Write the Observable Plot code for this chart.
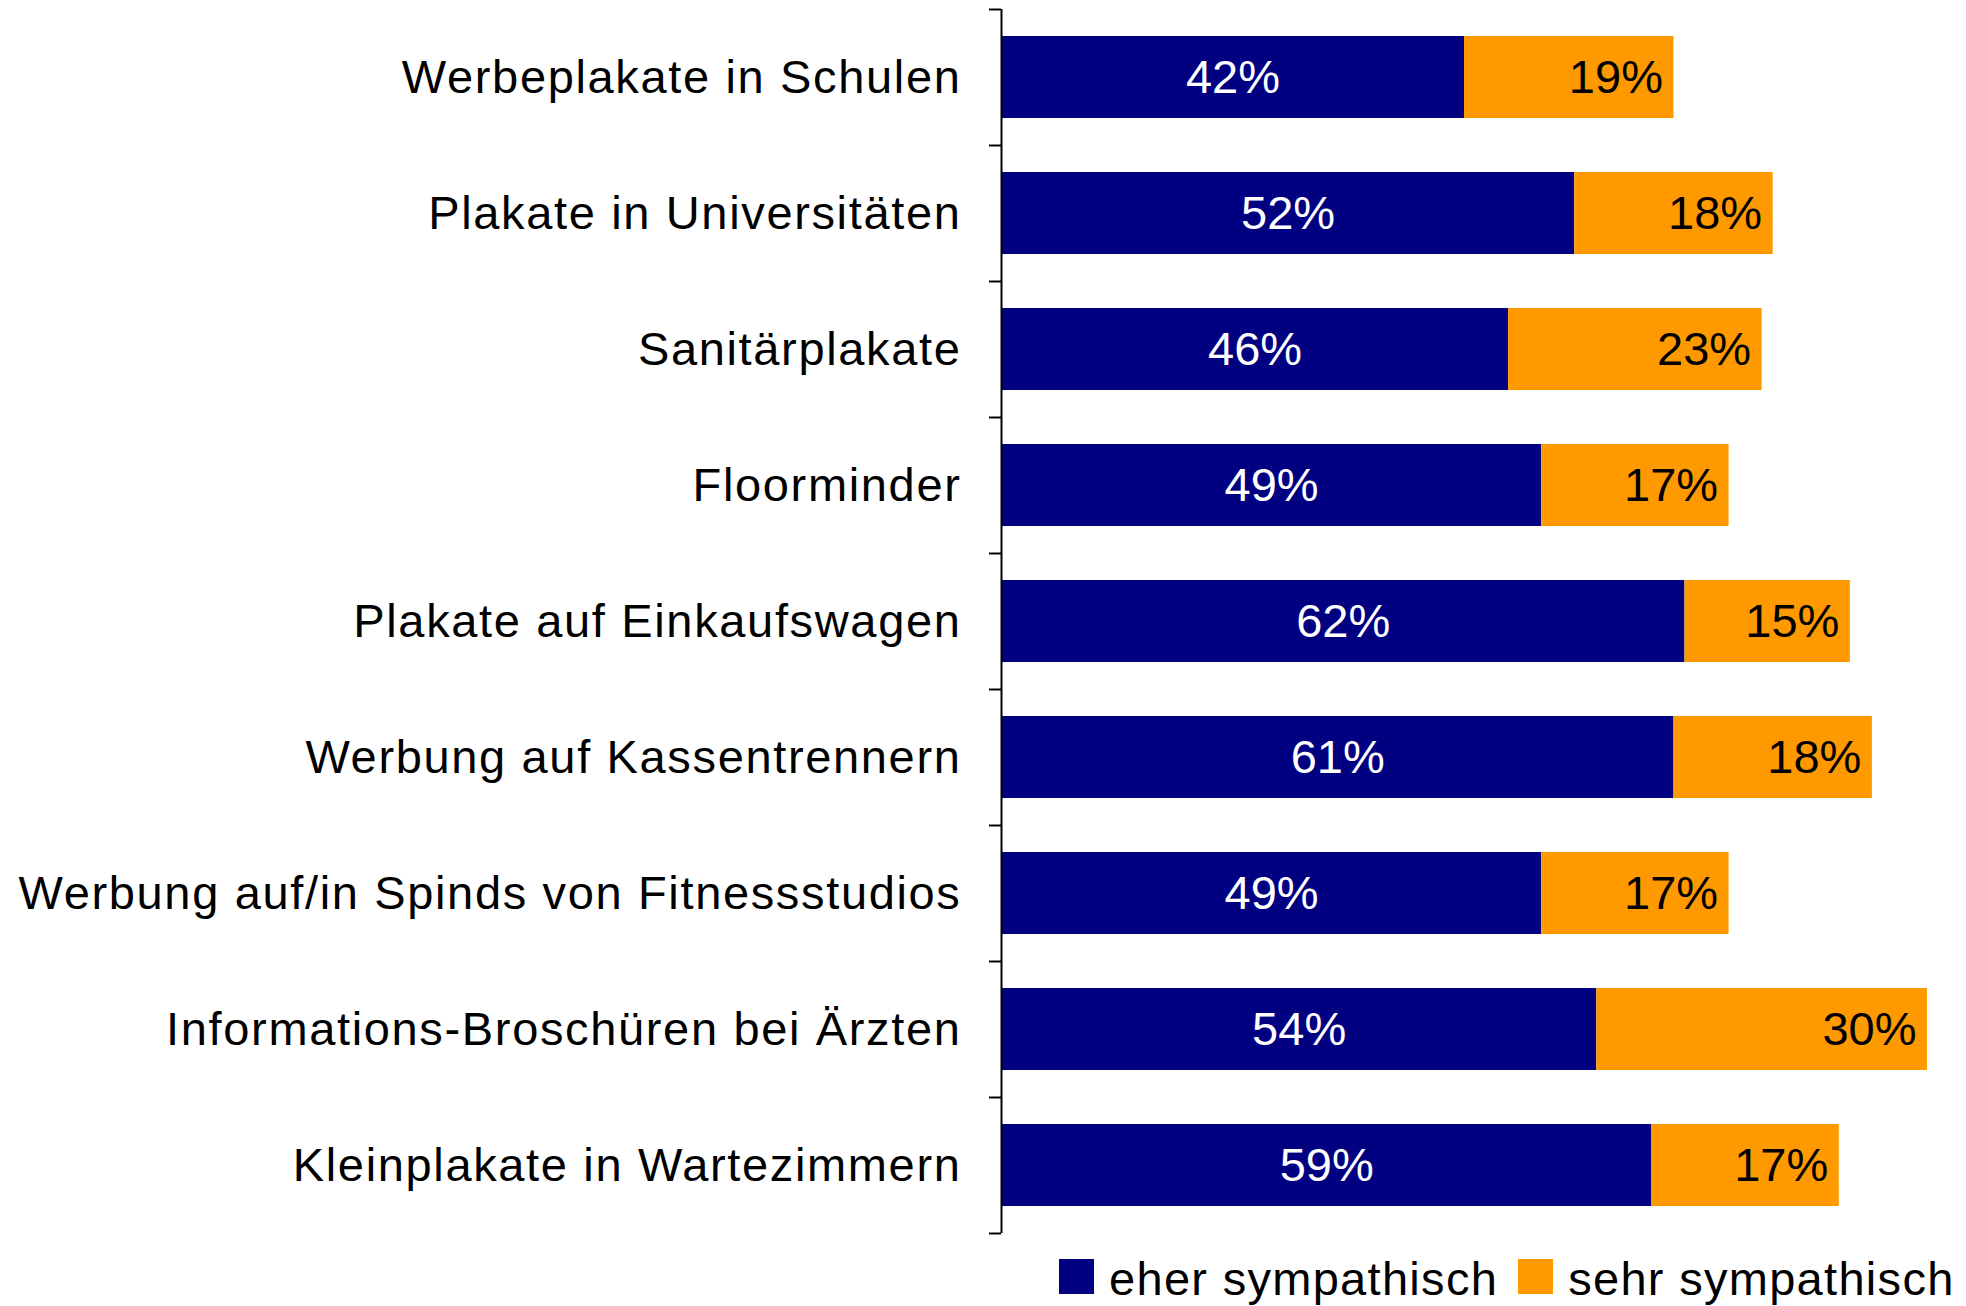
<!DOCTYPE html>
<html>
<head>
<meta charset="utf-8">
<script src="https://cdn.jsdelivr.net/npm/d3@7"></script>
<script src="https://cdn.jsdelivr.net/npm/@observablehq/plot@0.6"></script>
<style>
  html, body { margin: 0; padding: 0; background: #fff; }
  body { width: 1966px; height: 1306px; overflow: hidden; position: relative; font-family: "Liberation Sans", Arial, sans-serif; }
  #chart svg { display: block; }
  #chart svg g[aria-label="y-axis tick label"] text { letter-spacing: 1.65px; }
  .legend { position: absolute; left: 1059px; top: 1255px; height: 47px; display: flex; align-items: center; font-size: 47px; letter-spacing: 1.3px; color: #000; line-height: 1; white-space: nowrap; }
  .legend .sw { width: 35px; height: 35px; display: inline-block; margin-right: 15px; flex-shrink: 0; position: relative; top: -2px; }
  .legend .item { display: flex; align-items: center; margin-right: 20px; flex-shrink: 0; white-space: nowrap; }
</style>
</head>
<body>
<div id="chart"></div>
<script>
const categories = [
  "Werbeplakate in Schulen",
  "Plakate in Universitäten",
  "Sanitärplakate",
  "Floorminder",
  "Plakate auf Einkaufswagen",
  "Werbung auf Kassentrennern",
  "Werbung auf/in Spinds von Fitnessstudios",
  "Informations-Broschüren bei Ärzten",
  "Kleinplakate in Wartezimmern"
];
const eherValues = [42, 52, 46, 49, 62, 61, 49, 54, 59];
const sehrValues = [19, 18, 23, 17, 15, 18, 17, 30, 17];
const seriesNames = ["eher sympathisch", "sehr sympathisch"];
const seriesColors = ["#000080", "#FF9900"];

const rows = categories.map((c, i) => ({cat: c, eher: eherValues[i], sehr: sehrValues[i]}));
const long = [];
rows.forEach(r => {
  long.push({cat: r.cat, series: seriesNames[0], value: r.eher});
  long.push({cat: r.cat, series: seriesNames[1], value: r.sehr});
});

const W = 1966, H = 1242, mt = 9, mb = 9, ml = 1001, mr = 39;
const pInner = 0.4, pOuter = 0.2;
const step = (H - mt - mb) / (categories.length - pInner + 2 * pOuter);

const plot = Plot.plot({
  width: W,
  height: H,
  marginTop: mt,
  marginBottom: mb,
  marginLeft: ml,
  marginRight: mr,
  style: {fontFamily: "'Liberation Sans', Arial, sans-serif", background: "#fff"},
  x: {domain: [0, 84], axis: null},
  y: {domain: categories, paddingInner: pInner, paddingOuter: pOuter, label: null},
  color: {domain: seriesNames, range: seriesColors},
  marks: [
    Plot.barX(long, Plot.stackX({x: "value", y: "cat", fill: "series", order: seriesNames})),
    Plot.axisY({tickSize: 0, tickPadding: 40, fontSize: 47, fill: "#000"}),
    Plot.ruleX([0], {stroke: "#000", strokeWidth: 2}),
    Plot.ruleY(categories, {y: d => d, x1: 0, x2: 0, insetLeft: -12, dy: -step / 2, stroke: "#000", strokeWidth: 2}),
    Plot.ruleY([categories[categories.length - 1]], {y: d => d, x1: 0, x2: 0, insetLeft: -12, dy: step / 2, stroke: "#000", strokeWidth: 2}),
    Plot.text(rows, {x: d => d.eher / 2, y: "cat", text: d => d.eher + "%", fill: "#fff", fontSize: 47, textAnchor: "middle"}),
    Plot.text(rows, {x: d => d.eher + d.sehr, y: "cat", text: d => d.sehr + "%", fill: "#000", fontSize: 47, textAnchor: "end", dx: -11})
  ]
});
document.getElementById("chart").appendChild(plot);

const legend = document.createElement("div");
legend.className = "legend";
seriesNames.forEach((name, i) => {
  const item = document.createElement("div");
  item.className = "item";
  const sw = document.createElement("span");
  sw.className = "sw";
  sw.style.background = seriesColors[i];
  const t = document.createElement("span");
  t.textContent = name;
  item.appendChild(sw);
  item.appendChild(t);
  legend.appendChild(item);
});
document.body.appendChild(legend);
</script>
</body>
</html>
